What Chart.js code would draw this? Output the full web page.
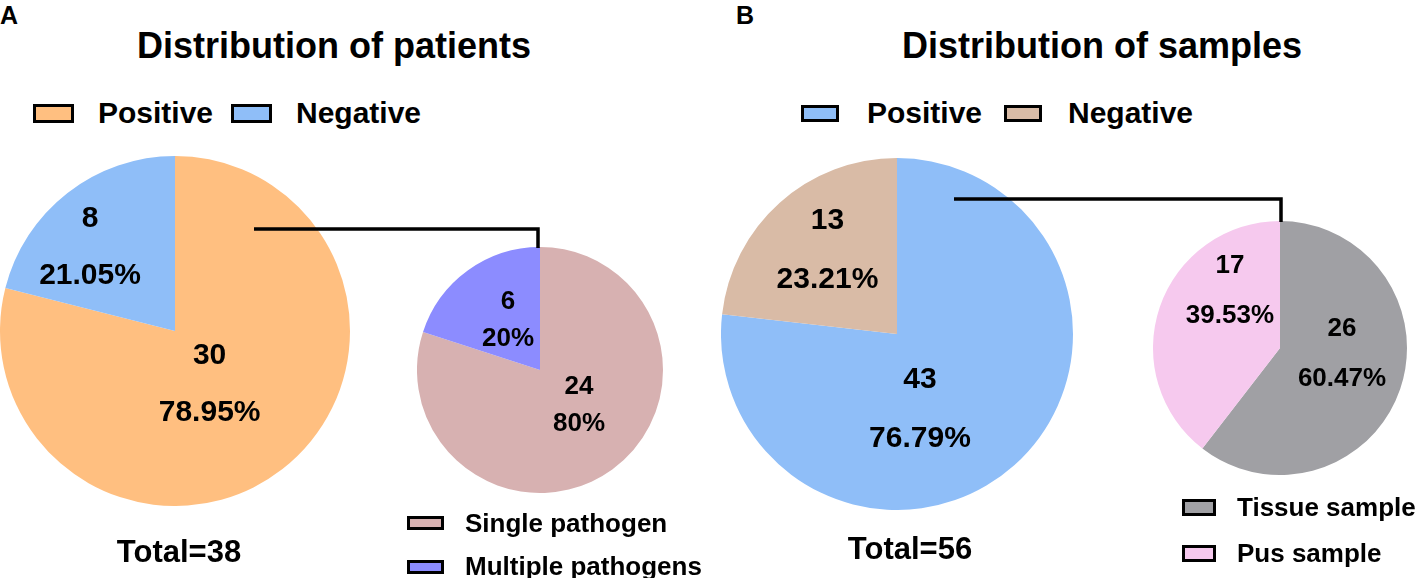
<!DOCTYPE html>
<html>
<head>
<meta charset="utf-8">
<script src="https://cdn.jsdelivr.net/npm/chart.js@4.4.1/dist/chart.umd.min.js"></script>
<style>
html,body{margin:0;padding:0;background:#fff;}
#stage{position:relative;width:1418px;height:578px;overflow:hidden;background:#fff;
  font-family:'Liberation Sans',Arial,Helvetica,sans-serif;font-weight:bold;color:#000;}
#stage canvas{position:absolute;}
.t{position:absolute;white-space:nowrap;line-height:1;}
.box{position:absolute;box-sizing:border-box;border:3px solid #000;}
#links{position:absolute;left:0;top:0;}
</style>
</head>
<body>
<div id="stage"></div>
<script>
// ---------------- data ----------------
const panelLetters = ['A', 'B'];
const panelTitles = ['Distribution of patients', 'Distribution of samples'];

const patientCategories = ['Positive', 'Negative'];
const patientValues = [30, 8];
const patientColors = ['#FFBF80', '#8FBEF8'];

const pathogenCategories = ['Single pathogen', 'Multiple pathogens'];
const pathogenValues = [24, 6];
const pathogenColors = ['#D7B1B1', '#8C8CFF'];

const sampleCategories = ['Positive', 'Negative'];
const sampleValues = [43, 13];
const sampleColors = ['#8FBEF8', '#D9BBA6'];

const sampleTypeCategories = ['Tissue sample', 'Pus sample'];
const sampleTypeValues = [26, 17];
const sampleTypeColors = ['#A0A0A4', '#F6C9EE'];

// ---------------- helpers ----------------
const FONT = "'Liberation Sans', Arial, Helvetica, sans-serif";
const stage = document.getElementById('stage');
const sum = a => a.reduce((s, v) => s + v, 0);
function pct(v, total) {
  return parseFloat((v / total * 100).toFixed(2)) + '%';
}
// place text: capCenterY = vertical middle of capitals
function addText(str, x, capCenterY, size, align) {
  const d = document.createElement('div');
  d.className = 't';
  d.textContent = str;
  d.style.fontSize = size + 'px';
  d.style.top = (capCenterY - 0.482 * size) + 'px';
  if (align === 'center') {
    d.style.left = (x - 500) + 'px';
    d.style.width = '1000px';
    d.style.textAlign = 'center';
  } else {
    d.style.left = x + 'px';
  }
  stage.appendChild(d);
}
function addBox(color, x, y, w, h) {
  const b = document.createElement('div');
  b.className = 'box';
  b.style.left = x + 'px'; b.style.top = y + 'px';
  b.style.width = w + 'px'; b.style.height = h + 'px';
  b.style.background = color;
  stage.appendChild(b);
}

const sliceLabels = {
  id: 'sliceLabels',
  afterDatasetsDraw(chart, args, opts) {
    const meta = chart.getDatasetMeta(0);
    const vals = chart.data.datasets[0].data;
    const total = sum(vals);
    const ctx = chart.ctx;
    ctx.save();
    ctx.font = 'bold ' + opts.size + 'px ' + FONT;
    ctx.fillStyle = '#000';
    ctx.textAlign = 'center';
    ctx.textBaseline = 'alphabetic';
    const cap = opts.size * 0.3645;
    meta.data.forEach((arc, i) => {
      const p = arc.getProps(['x', 'y', 'startAngle', 'endAngle', 'outerRadius'], true);
      const a = p.startAngle + (p.endAngle - p.startAngle) * opts.angleFrac[i];
      const r = p.outerRadius * opts.radFrac[i];
      const cx = p.x + Math.cos(a) * r;
      const cy = p.y + Math.sin(a) * r;
      ctx.fillText(String(vals[i]), cx, cy - opts.gap / 2 + cap);
      ctx.fillText(pct(vals[i], total), cx, cy + opts.gap / 2 + cap);
    });
    ctx.restore();
  }
};

function makePie(left, top, size, labels, values, colors, labelOpts) {
  const c = document.createElement('canvas');
  c.width = size; c.height = size;
  c.style.left = left + 'px'; c.style.top = top + 'px';
  c.style.width = size + 'px'; c.style.height = size + 'px';
  stage.appendChild(c);
  return new Chart(c, {
    type: 'pie',
    data: {
      labels: labels,
      datasets: [{ data: values, backgroundColor: colors, borderWidth: 0, hoverOffset: 0 }]
    },
    options: {
      responsive: false,
      maintainAspectRatio: false,
      animation: false,
      events: [],
      layout: { padding: 0 },
      plugins: {
        legend: { display: false },
        tooltip: { enabled: false },
        title: { display: false },
        sliceLabels: labelOpts
      }
    },
    plugins: [sliceLabels]
  });
}

// ---------------- panel letters & titles ----------------
addText(panelLetters[0], 0, 15, 25, 'left');
addText(panelLetters[1], 736, 15, 25, 'left');
addText(panelTitles[0], 137, 45, 36, 'left');
addText(panelTitles[1], 902, 45, 36, 'left');

// ---------------- top legends ----------------
addBox(patientColors[0], 33, 104, 41, 19);
addText(patientCategories[0], 98, 112, 30, 'left');
addBox(patientColors[1], 231, 104, 41, 19);
addText(patientCategories[1], 296, 112, 30, 'left');

addBox(sampleColors[0], 801, 105, 38, 17);
addText(sampleCategories[0], 867, 112, 30, 'left');
addBox(sampleColors[1], 1004, 105, 38, 17);
addText(sampleCategories[1], 1068, 112, 30, 'left');

// ---------------- pies ----------------
makePie(0, 156, 350, patientCategories, patientValues, patientColors,
  { size: 30, gap: 57, angleFrac: [0.513, 0.413], radFrac: [0.352, 0.693] });
makePie(417, 247, 246, pathogenCategories, pathogenValues, pathogenColors,
  { size: 26, gap: 37, angleFrac: [0.452, 0.558], radFrac: [0.415, 0.493] });
makePie(721, 158, 352, sampleCategories, sampleValues, sampleColors,
  { size: 30, gap: 59, angleFrac: [0.588, 0.536], radFrac: [0.435, 0.631] });
makePie(1153, 221, 254, sampleTypeCategories, sampleTypeValues, sampleTypeColors,
  { size: 26, gap: 50, angleFrac: [0.430, 0.720], radFrac: [0.489, 0.615] });

// ---------------- connectors ----------------
const svgNS = 'http://www.w3.org/2000/svg';
const svg = document.createElementNS(svgNS, 'svg');
svg.setAttribute('id', 'links');
svg.setAttribute('width', '1418');
svg.setAttribute('height', '578');
[['254,229 538,229 538,248'], ['954,199 1281,199 1281,222']].forEach(p => {
  const pl = document.createElementNS(svgNS, 'polyline');
  pl.setAttribute('points', p[0]);
  pl.setAttribute('fill', 'none');
  pl.setAttribute('stroke', '#000');
  pl.setAttribute('stroke-width', '3.5');
  pl.setAttribute('stroke-linejoin', 'miter');
  svg.appendChild(pl);
});
stage.appendChild(svg);

// ---------------- small legends ----------------
addBox(pathogenColors[0], 407, 516, 37, 14);
addText(pathogenCategories[0], 465, 523, 26, 'left');
addBox(pathogenColors[1], 407, 560, 37, 14);
addText(pathogenCategories[1], 465, 566, 26, 'left');

addBox(sampleTypeColors[0], 1182, 499, 34, 17);
addText(sampleTypeCategories[0], 1237, 507, 26, 'left');
addBox(sampleTypeColors[1], 1182, 545, 34, 17);
addText(sampleTypeCategories[1], 1237, 553, 26, 'left');

// ---------------- totals ----------------
addText('Total=' + sum(patientValues), 179, 551, 31, 'center');
addText('Total=' + sum(sampleValues), 910, 548, 31, 'center');
</script>
</body>
</html>
